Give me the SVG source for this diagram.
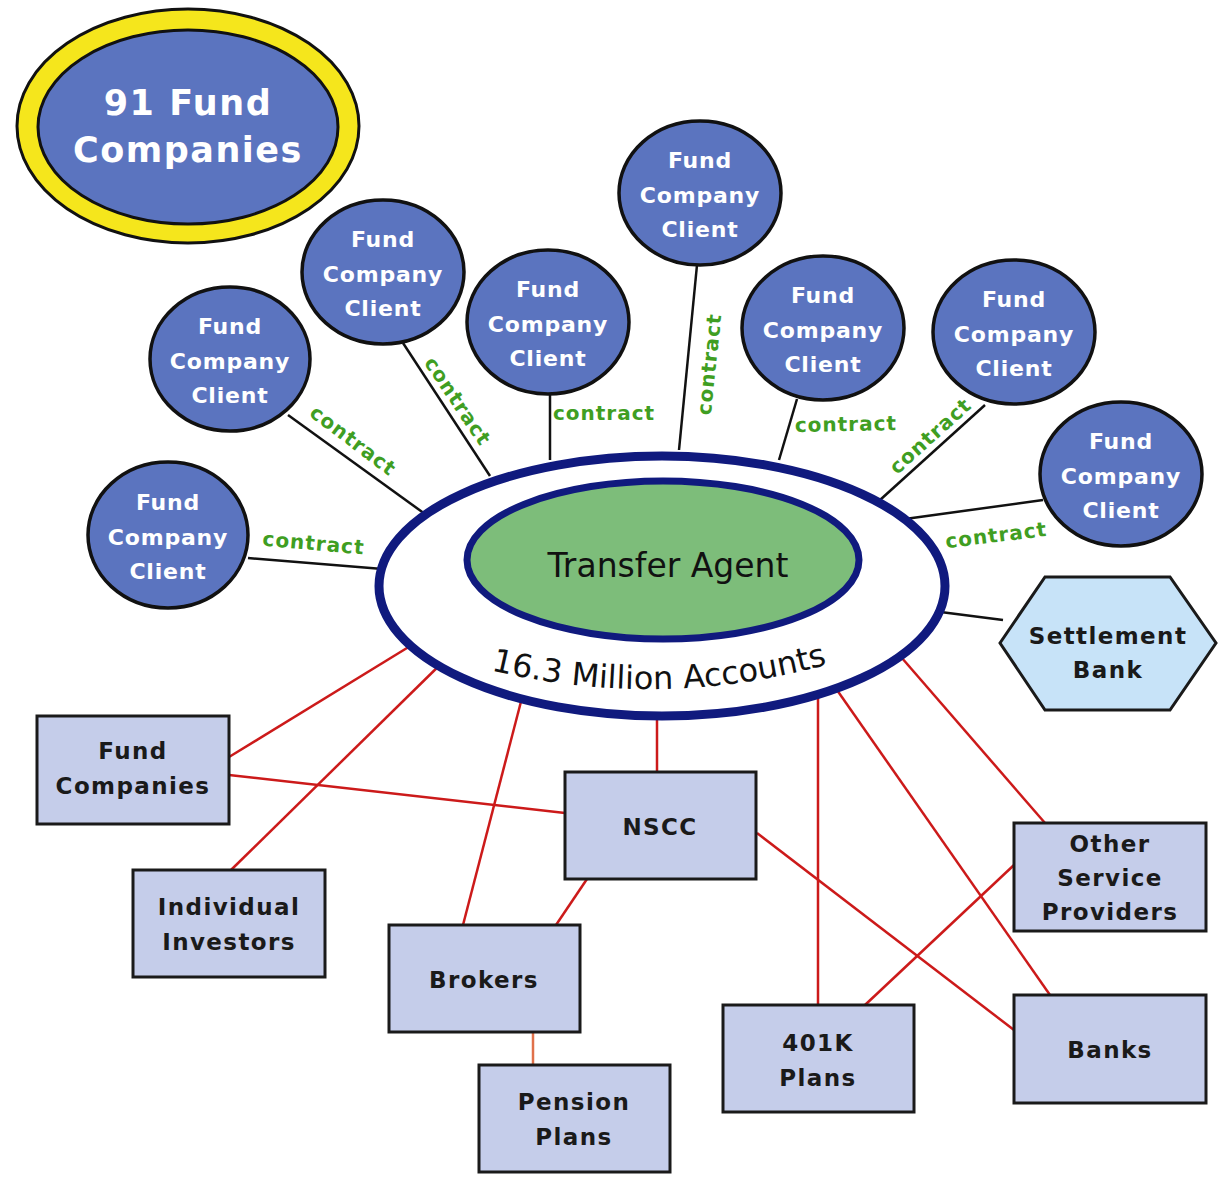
<svg xmlns="http://www.w3.org/2000/svg" width="1227" height="1178" viewBox="0 0 1227 1178">
<defs>
<style>
.client{fill:#5b74bf;stroke:#111;stroke-width:3.5}
.ct{font-family:"DejaVu Sans",sans-serif;font-weight:bold;font-size:22px;fill:#fff;text-anchor:middle;letter-spacing:0.8px}
.box{fill:#c5cdea;stroke:#1a1a1a;stroke-width:3}
.bt{font-family:"DejaVu Sans",sans-serif;font-weight:bold;font-size:23px;fill:#1a1a1a;text-anchor:middle;letter-spacing:1.4px}
.blk{stroke:#111;stroke-width:2.5;fill:none}
.red{stroke:#cc1a1a;stroke-width:2.5;fill:none}
.lbl{font-family:"DejaVu Sans",sans-serif;font-weight:bold;font-size:20px;fill:#3f9e22;text-anchor:middle;letter-spacing:1px}
</style>
<path id="arc" d="M 478 667 Q 658 714 840 661"/>
</defs>
<rect width="1227" height="1178" fill="#fff"/>

<g id="connectors">
<line class="blk" x1="248" y1="558" x2="395" y2="570"/>
<line class="blk" x1="288" y1="415" x2="425" y2="514"/>
<line class="blk" x1="403" y1="343" x2="490" y2="476"/>
<line class="blk" x1="550" y1="395" x2="550" y2="460"/>
<line class="blk" x1="697" y1="265" x2="679" y2="450"/>
<line class="blk" x1="797" y1="399" x2="779" y2="460"/>
<line class="blk" x1="985" y1="405" x2="880" y2="500"/>
<line class="blk" x1="1043" y1="500" x2="905" y2="519"/>
<line class="blk" x1="1003" y1="620" x2="925" y2="610"/>
<line class="red" x1="229" y1="757" x2="420" y2="640"/>
<line class="red" x1="231" y1="870" x2="450" y2="655"/>
<line class="red" x1="463" y1="925" x2="524" y2="690"/>
<line class="red" x1="657" y1="772" x2="657" y2="710"/>
<line class="red" x1="818" y1="1005" x2="818" y2="690"/>
<line class="red" x1="1050" y1="995" x2="830" y2="680"/>
<line class="red" x1="1045" y1="823" x2="895" y2="650"/>
<line class="red" x1="229" y1="775" x2="565" y2="813"/>
<line class="red" x1="757" y1="833" x2="1014" y2="1030"/>
<line class="red" x1="865" y1="1005" x2="1014" y2="865"/>
<line class="red" x1="587" y1="879" x2="556" y2="925"/>
<line x1="533" y1="1032" x2="533" y2="1065" stroke="#e0714a" stroke-width="2.5"/>
</g>

<g id="fund-companies-91">
<ellipse cx="188" cy="126" rx="171" ry="117" fill="#f5e61c" stroke="#111" stroke-width="3"/>
<ellipse cx="188" cy="127" rx="150" ry="97" fill="#5b74bf" stroke="#111" stroke-width="3"/>
<text x="188" y="115" font-family="DejaVu Sans, sans-serif" font-weight="bold" font-size="35" fill="#fff" text-anchor="middle" letter-spacing="1.5">91 Fund</text>
<text x="188" y="162" font-family="DejaVu Sans, sans-serif" font-weight="bold" font-size="35" fill="#fff" text-anchor="middle" letter-spacing="1.5">Companies</text>
</g>

<g id="client1"><ellipse class="client" cx="168" cy="535" rx="80" ry="73"/>
<text class="ct" x="168" y="510">Fund</text><text class="ct" x="168" y="545">Company</text><text class="ct" x="168" y="579">Client</text></g>
<g id="client2"><ellipse class="client" cx="230" cy="359" rx="80" ry="72"/>
<text class="ct" x="230" y="334">Fund</text><text class="ct" x="230" y="369">Company</text><text class="ct" x="230" y="403">Client</text></g>
<g id="client3"><ellipse class="client" cx="383" cy="272" rx="81" ry="72"/>
<text class="ct" x="383" y="247">Fund</text><text class="ct" x="383" y="282">Company</text><text class="ct" x="383" y="316">Client</text></g>
<g id="client4"><ellipse class="client" cx="548" cy="322" rx="81" ry="72"/>
<text class="ct" x="548" y="297">Fund</text><text class="ct" x="548" y="332">Company</text><text class="ct" x="548" y="366">Client</text></g>
<g id="client5"><ellipse class="client" cx="700" cy="193" rx="81" ry="72"/>
<text class="ct" x="700" y="168">Fund</text><text class="ct" x="700" y="203">Company</text><text class="ct" x="700" y="237">Client</text></g>
<g id="client6"><ellipse class="client" cx="823" cy="328" rx="81" ry="72"/>
<text class="ct" x="823" y="303">Fund</text><text class="ct" x="823" y="338">Company</text><text class="ct" x="823" y="372">Client</text></g>
<g id="client7"><ellipse class="client" cx="1014" cy="332" rx="81" ry="72"/>
<text class="ct" x="1014" y="307">Fund</text><text class="ct" x="1014" y="342">Company</text><text class="ct" x="1014" y="376">Client</text></g>
<g id="client8"><ellipse class="client" cx="1121" cy="474" rx="81" ry="72"/>
<text class="ct" x="1121" y="449">Fund</text><text class="ct" x="1121" y="484">Company</text><text class="ct" x="1121" y="518">Client</text></g>

<g id="contract-labels">
<text class="lbl" transform="translate(313,550) rotate(5)">contract</text>
<text class="lbl" transform="translate(349,446) rotate(37)">contract</text>
<text class="lbl" transform="translate(452,405) rotate(56)">contract</text>
<text class="lbl" x="604" y="420">contract</text>
<text class="lbl" transform="translate(716,365) rotate(-84)">contract</text>
<text class="lbl" transform="translate(846,431) rotate(-1)">contract</text>
<text class="lbl" transform="translate(935,441) rotate(-42)">contract</text>
<text class="lbl" transform="translate(997,542) rotate(-7)">contract</text>
</g>

<g id="transfer-agent">
<ellipse cx="662" cy="586" rx="283" ry="130" fill="#fff" stroke="#101a7e" stroke-width="9"/>
<ellipse cx="663" cy="560" rx="196" ry="79" fill="#7dbd7a" stroke="#101a7e" stroke-width="7"/>
<text x="668" y="577" font-family="DejaVu Sans, sans-serif" font-size="33" fill="#111" text-anchor="middle">Transfer Agent</text>
<text font-family="DejaVu Sans, sans-serif" font-size="32" fill="#111"><textPath href="#arc" startOffset="50%" text-anchor="middle">16.3 Million Accounts</textPath></text>
</g>

<g id="settlement-bank">
<polygon points="1000,643 1045,577 1170,577 1216,643 1170,710 1045,710" fill="#c7e3f8" stroke="#1a1a1a" stroke-width="3"/>
<text class="bt" x="1108" y="644">Settlement</text>
<text class="bt" x="1108" y="678">Bank</text>
</g>

<g id="fund-companies"><rect class="box" x="37" y="716" width="192" height="108"/>
<text class="bt" x="133" y="759">Fund</text><text class="bt" x="133" y="794">Companies</text></g>
<g id="individual-investors"><rect class="box" x="133" y="870" width="192" height="107"/>
<text class="bt" x="229" y="915">Individual</text><text class="bt" x="229" y="950">Investors</text></g>
<g id="nscc"><rect class="box" x="565" y="772" width="191" height="107"/>
<text class="bt" x="660" y="835">NSCC</text></g>
<g id="brokers"><rect class="box" x="389" y="925" width="191" height="107"/>
<text class="bt" x="484" y="988">Brokers</text></g>
<g id="pension-plans"><rect class="box" x="479" y="1065" width="191" height="107"/>
<text class="bt" x="574" y="1110">Pension</text><text class="bt" x="574" y="1145">Plans</text></g>
<g id="plans-401k"><rect class="box" x="723" y="1005" width="191" height="107"/>
<text class="bt" x="818" y="1051">401K</text><text class="bt" x="818" y="1086">Plans</text></g>
<g id="other-service-providers"><rect class="box" x="1014" y="823" width="192" height="108"/>
<text class="bt" x="1110" y="852">Other</text><text class="bt" x="1110" y="886">Service</text><text class="bt" x="1110" y="920">Providers</text></g>
<g id="banks"><rect class="box" x="1014" y="995" width="192" height="108"/>
<text class="bt" x="1110" y="1058">Banks</text></g>
</svg>
